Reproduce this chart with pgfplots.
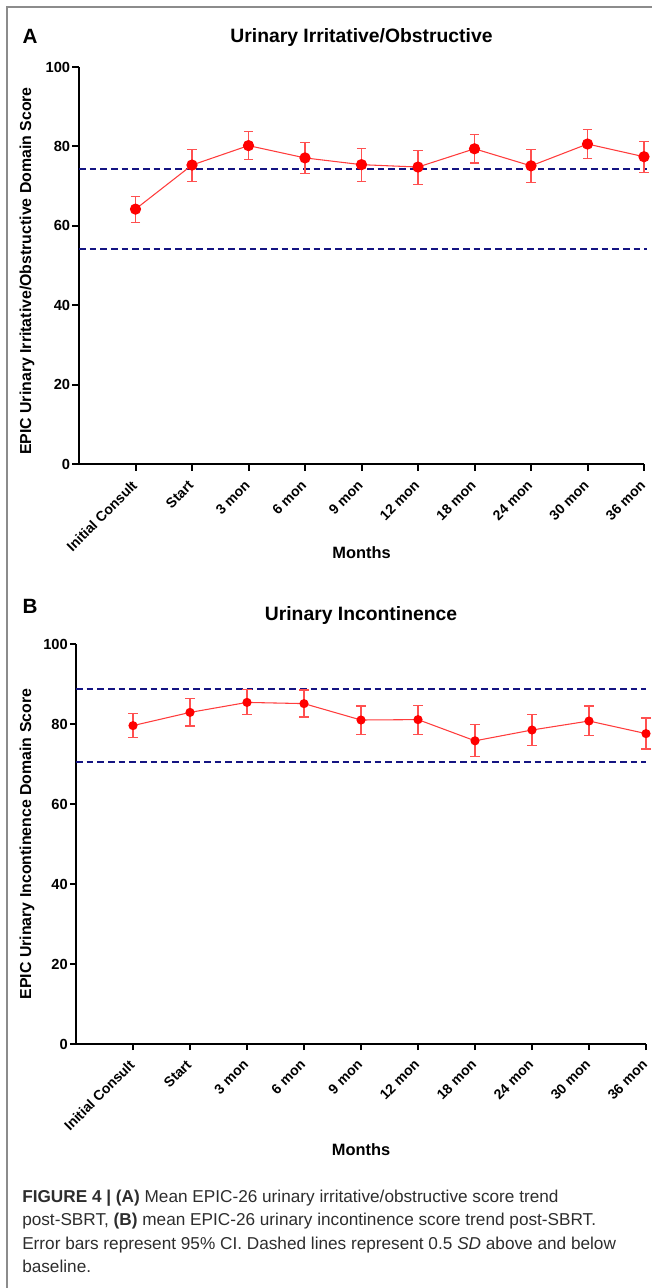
\documentclass[border=0pt]{standalone}
\usepackage{fontspec}
\setmainfont{Liberation Sans}
\usepackage{pgfplots}
\usepackage{pgfplotstable}
\pgfplotsset{compat=1.18}
\definecolor{ptred}{RGB}{255,0,0}
\definecolor{linered}{RGB}{255,60,60}
\definecolor{errred}{RGB}{255,80,80}
\definecolor{dashblue}{RGB}{20,20,130}
\definecolor{framegray}{RGB}{140,140,140}
\definecolor{captext}{RGB}{45,45,45}

\pgfplotstableread{
x y hi lo
1 64.2 67.4 60.8
2 75.3 79.3 71.1
3 80.2 83.7 76.7
4 77.1 80.9 73.2
5 75.4 79.4 71.2
6 74.8 79.0 70.5
7 79.4 83.0 75.8
8 75.1 79.3 71.0
9 80.6 84.2 76.9
10 77.4 81.2 73.5
}\dataA

\pgfplotstableread{
x y hi lo
1 79.6 82.7 76.7
2 82.9 86.3 79.5
3 85.4 88.6 82.3
4 85.1 88.5 81.75
5 81.0 84.5 77.4
6 81.1 84.7 77.3
7 75.8 79.9 71.9
8 78.5 82.4 74.7
9 80.75 84.5 77.1
10 77.6 81.5 73.75
}\dataB

\pgfplotsset{
  epicstyle/.style={
    scale only axis,
    anchor=south west,
    xmin=0, xmax=10, ymin=0, ymax=100,
    axis lines*=left,
    clip=false,
    xtick={1,...,10},
    xticklabels={Initial Consult,Start,3 mon,6 mon,9 mon,12 mon,18 mon,24 mon,30 mon,36 mon},
    ytick={0,20,40,60,80,100},
    tick align=outside,
    /pgf/number format/assume math mode=true,
    yticklabel style={font=\bfseries\fontsize{11}{13}\selectfont, inner sep=1.5pt},
    xticklabel style={font=\bfseries\fontsize{10.5}{12}\selectfont, xshift=-3.5pt, yshift=-5pt, rotate=45, anchor=north east, inner sep=1pt},
    title style={font=\bfseries\fontsize{14.5}{17}\selectfont},
    xlabel style={font=\bfseries\fontsize{12.3}{14}\selectfont},
    ylabel style={font=\bfseries\fontsize{11.9}{14}\selectfont},
    xlabel={Months},
  },
  errstyle/.style={
    linered, line width=0.8pt, mark=*, mark size=#1,
    mark options={ptred, fill=ptred, draw=ptred},
    error bars/.cd, y dir=both, y explicit,
    error bar style={errred, line width=0.9pt},
    error mark options={errred, line width=0.9pt, rotate=90, mark size=3.5pt},
  },
  dashstyle/.style={dashblue, line width=1.4pt, dash pattern=on 5pt off 3pt, no marks},
}

\begin{document}
\begin{tikzpicture}
\useasboundingbox (0,0) rectangle (489pt,-966pt);
% frame
\draw[framegray, line width=1pt] (5.25pt,-970pt) -- (5.25pt,-5.25pt) -- (495pt,-5.25pt);

% Panel A
\begin{axis}[epicstyle,
  at={(59.25pt,-348pt)}, width=423.75pt, height=297.75pt,
  axis line style={line width=1.5pt, -},
  major tick style={line width=1.5pt, black},
  major tick length=5pt,
  title={Urinary Irritative/Obstructive},
  title style={at={(axis description cs:0.5,1)}, anchor=base, yshift=12.75pt},
  ylabel={EPIC Urinary Irritative/Obstructive Domain Score},
  ylabel style={at={(axis description cs:-0.092,0.486)}, anchor=center},
  xlabel style={at={(axis description cs:0.5,-0.224)}, anchor=center},
]
\addplot[dashstyle] coordinates {(0,74.2) (10.05,74.2)};
\addplot[dashstyle] coordinates {(0,54.1) (10.05,54.1)};
\addplot[errstyle=3.8pt] table[x=x, y=y,
  y error plus expr=\thisrow{hi}-\thisrow{y},
  y error minus expr=\thisrow{y}-\thisrow{lo}] {\dataA};
\end{axis}

% Panel B
\begin{axis}[epicstyle,
  at={(57pt,-783pt)}, width=427.5pt, height=300pt,
  axis line style={line width=1pt, -},
  major tick style={line width=1pt, black},
  major tick length=4.5pt,
  title={Urinary Incontinence},
  title style={at={(axis description cs:0.5,1)}, anchor=base, yshift=12pt},
  ylabel={EPIC Urinary Incontinence Domain Score},
  ylabel style={at={(axis description cs:-0.086,0.50)}, anchor=center},
  xlabel style={at={(axis description cs:0.5,-0.265)}, anchor=center},
]
\addplot[dashstyle] coordinates {(0,88.75) (10,88.75)};
\addplot[dashstyle] coordinates {(0,70.5) (10,70.5)};
\addplot[errstyle=3pt] table[x=x, y=y,
  y error plus expr=\thisrow{hi}-\thisrow{y},
  y error minus expr=\thisrow{y}-\thisrow{lo}] {\dataB};
\end{axis}

% panel letters
\node[font=\bfseries\fontsize{15.5}{17}\selectfont, anchor=center] at (22.5pt,-27.5pt) {A};
\node[font=\bfseries\fontsize{15.5}{17}\selectfont, anchor=center] at (22.5pt,-455pt) {B};

% caption
\node[anchor=north west, inner sep=0pt, align=left, text=captext,
      font=\fontsize{12.9}{17.6}\selectfont] at (16.5pt,-892pt)
{\textbf{FIGURE 4 | (A)} Mean EPIC-26 urinary irritative/obstructive score trend\\
post-SBRT, \textbf{(B)} mean EPIC-26 urinary incontinence score trend post-SBRT.\\
Error bars represent 95\% CI. Dashed lines represent 0.5 \textit{SD} above and below\\
baseline.};
\end{tikzpicture}
\end{document}
